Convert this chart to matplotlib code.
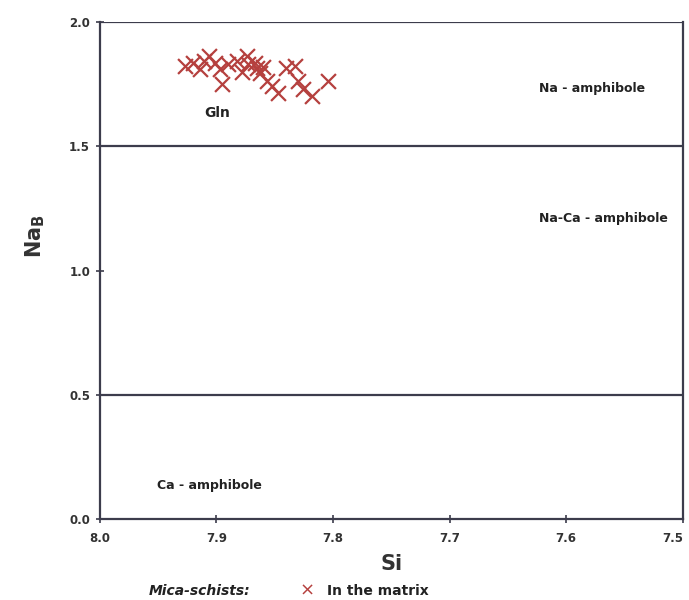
import matplotlib.pyplot as plt

plt.rcParams["font.family"] = ["DejaVu Sans"]

# Data
si = [7.927, 7.920, 7.914, 7.906, 7.901, 7.897, 7.895, 7.890, 7.882, 7.874,
      7.873, 7.867, 7.865, 7.863, 7.857, 7.852, 7.847, 7.840, 7.833, 7.830,
      7.826, 7.818, 7.804, 7.911, 7.878, 7.860]
nab = [1.823, 1.835, 1.811, 1.863, 1.835, 1.811, 1.751, 1.831, 1.843, 1.863,
       1.831, 1.835, 1.815, 1.795, 1.763, 1.743, 1.715, 1.815, 1.823, 1.763,
       1.731, 1.703, 1.763, 1.845, 1.80, 1.82]
boundaries = [0.5, 1.5, 2.0]
x_ticks = [8.0, 7.9, 7.8, 7.7, 7.6, 7.5]
y_ticks = [0.0, 0.5, 1.0, 1.5, 2.0]

line_c = "#3c3c4c"
red = "#b5403e"

fig = plt.figure(figsize=(6.89, 6.0), dpi=100)
ax = fig.add_axes([0.145, 0.135, 0.846, 0.828])

ax.set_xlim(8.0, 7.5)
ax.set_ylim(0, 2.0)

for b in boundaries:
    ax.axhline(b, color=line_c, lw=1.6, zorder=1)

ax.scatter(si, nab, marker="x", s=115, color=red, linewidths=1.6, zorder=3)

lbl = dict(fontsize=9, fontweight="bold", ha="center", va="center", color="#222222")
ax.text(7.578, 1.735, "Na - amphibole", **lbl)
ax.text(7.568, 1.209, "Na-Ca - amphibole", **lbl)
ax.text(7.906, 0.135, "Ca - amphibole", **lbl)
ax.text(7.899, 1.635, "Gln", fontsize=10, fontweight="bold", ha="center", va="center",
        color="#222222")

for side in ["left", "bottom", "right"]:
    ax.spines[side].set_color(line_c)
    ax.spines[side].set_linewidth(1.6)
ax.spines["top"].set_visible(False)

ax.set_xticks(x_ticks)
ax.set_yticks(y_ticks)
ax.set_xticklabels(["%.1f" % v for v in x_ticks], fontsize=8.5, fontweight="bold", color="#333333")
ax.set_yticklabels(["%.1f" % v for v in y_ticks], fontsize=8.5, fontweight="bold", color="#333333")
ax.get_xticklabels()[-1].set_horizontalalignment("right")
ax.tick_params(direction="inout", length=6, width=1.2, color=line_c, pad=6)
ax.tick_params(axis="y", pad=4)

ax.set_xlabel("Si", fontsize=15, fontweight="bold", labelpad=7, color="#333333")
ax.set_ylabel("Na$_\\mathregular{B}$", fontsize=15, fontweight="bold", color="#333333")
ax.yaxis.set_label_coords(-0.09, 0.57)

fig.text(0.29, 0.015, "Mica-schists:", fontsize=10, fontweight="bold", style="italic",
         ha="center", va="center", color="#222222")
fig.text(0.446, 0.015, "\u00d7", fontsize=13, color=red, ha="center", va="center")
fig.text(0.474, 0.015, "In the matrix", fontsize=10, fontweight="bold", ha="left", va="center",
         color="#222222")

fig.savefig("out.png", dpi=100)
